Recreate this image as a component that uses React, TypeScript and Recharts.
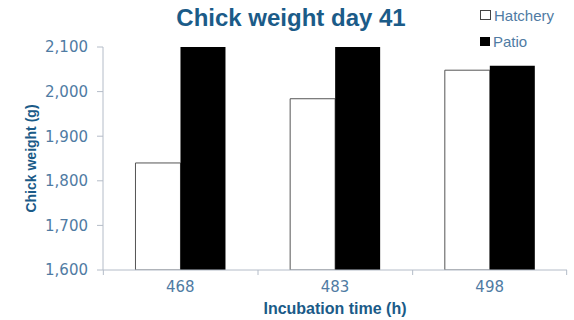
import { BarChart, Bar, XAxis, YAxis, Label } from "recharts";

const hours = ["468", "483", "498"];
const hatchery = [1840, 1984, 2048];
const patio = [2100, 2100, 2058];
const yTicks = [1600, 1700, 1800, 1900, 2000, 2100];

const data = hours.map((h, i) => ({ hour: h, Hatchery: hatchery[i], Patio: patio[i] }));

const tickBlue = "#4f7ba3";
const darkBlue = "#1b5b88";
const axisGray = "#b4bcc8";
const font = "'Liberation Sans', Arial, sans-serif";
const tickFont = "'DejaVu Sans', sans-serif";

// Excel style: ticks sit between categories, not under them
const XTick = (props: any) => {
  const { x, y, payload, index, visibleTicksCount } = props;
  const band = 154;
  return (
    <g>
      <line x1={x - band / 2} x2={x - band / 2} y1={y - 8} y2={y - 3} stroke={axisGray} />
      {index === visibleTicksCount - 1 && (
        <line x1={x + band / 2} x2={x + band / 2} y1={y - 8} y2={y - 3} stroke={axisGray} />
      )}
      <text x={x} y={y + 14} textAnchor="middle" fill={tickBlue} fontSize={15} fontFamily={tickFont}>
        {payload.value}
      </text>
    </g>
  );
};

export default function App() {
  return (
    <div style={{ position: "absolute", left: 0, top: 0, width: 574, height: 320, background: "#fff" }}>
      <div
        style={{
          position: "absolute",
          left: 160,
          top: 4,
          width: 262,
          textAlign: "center",
          fontFamily: font,
          fontWeight: "bold",
          fontSize: 24,
          color: darkBlue,
        }}
      >
        Chick weight day 41
      </div>
      <div style={{ position: "absolute", left: 480, top: 5, fontFamily: font, fontSize: 15, color: tickBlue }}>
        <div style={{ display: "flex", alignItems: "center", height: 20 }}>
          <span style={{ width: 9, height: 8, border: "1px solid #444", background: "#fff", marginRight: 3 }} />
          Hatchery
        </div>
        <div style={{ display: "flex", alignItems: "center", height: 20, marginTop: 6 }}>
          <span style={{ width: 10, height: 9, background: "#000", marginRight: 3 }} />
          Patio
        </div>
      </div>
      <BarChart
        width={574}
        height={320}
        data={data}
        margin={{ top: 47, right: 7, left: 0, bottom: 0 }}
        barCategoryGap="21%"
        barGap={0}
      >
        <XAxis
          dataKey="hour"
          height={50}
          stroke={axisGray}
          tickLine={false}
          tick={<XTick />}
        >
          <Label
            value="Incubation time (h)"
            position="insideBottom"
            offset={6}
            fill={darkBlue}
            fontWeight="bold"
            fontSize={16}
            fontFamily={font}
          />
        </XAxis>
        <YAxis
          width={103}
          domain={[1600, 2100]}
          ticks={yTicks}
          allowDataOverflow
          stroke={axisGray}
          tickSize={6}
          tickMargin={9}
          tick={{ fill: tickBlue, fontSize: 15, fontFamily: tickFont }}
          tickFormatter={(v: number) => v.toLocaleString("en-US")}
        >
          <Label
            value="Chick weight (g)"
            angle={-90}
            position="insideLeft"
            offset={31}
            style={{ textAnchor: "middle" }}
            fill={darkBlue}
            fontWeight="bold"
            fontSize={14}
            fontFamily="'Liberation Sans Narrow', 'Liberation Sans', Arial, sans-serif"
          />
        </YAxis>
        <Bar dataKey="Hatchery" fill="#fff" stroke="#555" strokeWidth={1} isAnimationActive={false} />
        <Bar dataKey="Patio" fill="#000" isAnimationActive={false} />
      </BarChart>
    </div>
  );
}
